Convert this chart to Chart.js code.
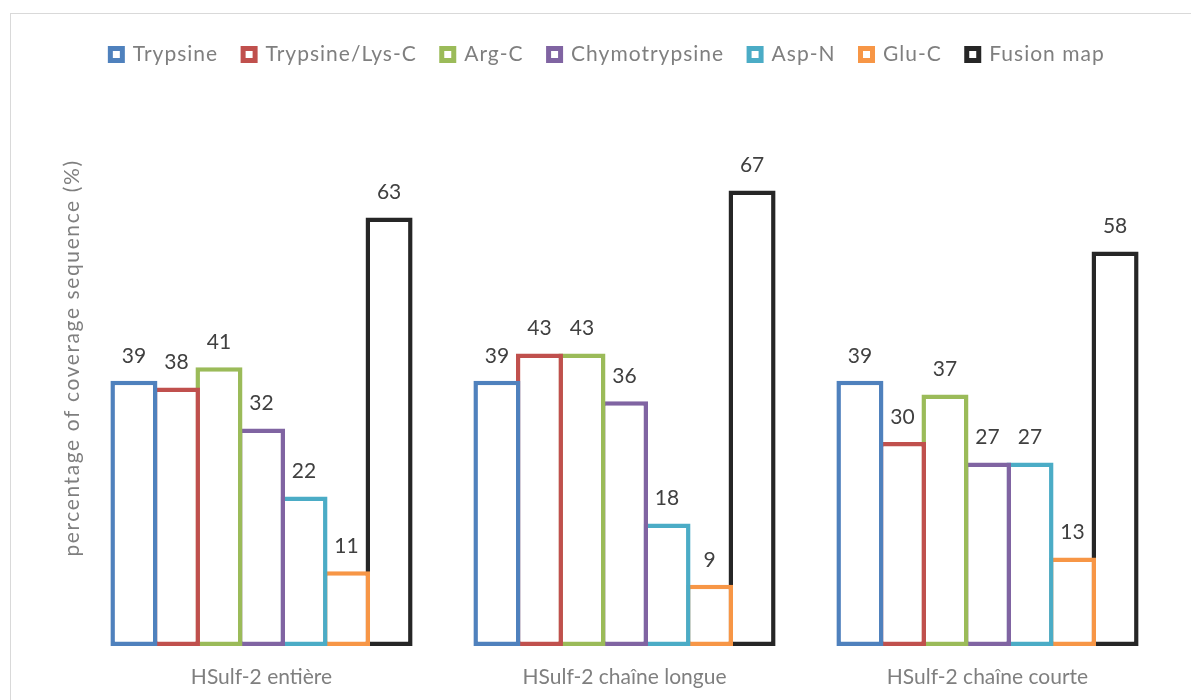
<!DOCTYPE html>
<html>
<head>
<meta charset="utf-8">
<script src="https://cdn.jsdelivr.net/npm/chart.js@4.4.1/dist/chart.umd.min.js"></script>
<style>
  html, body { margin: 0; padding: 0; background: #ffffff; overflow: hidden; }
  #frame { position: absolute; left: 10px; top: 13px; width: 1300px; height: 800px; border: 1px solid #d9d9d9; }
  #wrap { position: absolute; left: 0; top: 0; width: 1191px; height: 700px; }
</style>
</head>
<body>
<div id="frame"></div>
<div id="wrap"><canvas id="c" width="1191" height="700"></canvas></div>
<script>
// Sequence coverage of HSulf-2 by protease
const categories = ['HSulf-2 entière', 'HSulf-2 chaîne longue', 'HSulf-2 chaîne courte'];
const trypsine      = [39, 39, 39];
const trypsineLysC  = [38, 43, 30];
const argC          = [41, 43, 37];
const chymotrypsine = [32, 36, 27];
const aspN          = [22, 18, 27];
const gluC          = [11, 9, 13];
const fusionMap     = [63, 67, 58];
const yTitle = 'percentage of coverage sequence (%)';

const series = [
  { label: 'Trypsine',        data: trypsine,      color: '#4f81bd' },
  { label: 'Trypsine/Lys-C',  data: trypsineLysC,  color: '#c0504d' },
  { label: 'Arg-C',           data: argC,          color: '#9bbb59' },
  { label: 'Chymotrypsine',   data: chymotrypsine, color: '#8064a2' },
  { label: 'Asp-N',           data: aspN,          color: '#4bacc6' },
  { label: 'Glu-C',           data: gluC,          color: '#f79646' },
  { label: 'Fusion map',      data: fusionMap,     color: '#262626' }
];

const FONT = 'Lato, "Open Sans", sans-serif';
const BORDER = 4.5;

// value labels above each bar
const valueLabels = {
  id: 'valueLabels',
  afterDatasetsDraw(chart) {
    const ctx = chart.ctx;
    ctx.save();
    ctx.font = '21px ' + FONT;
    ctx.fillStyle = '#404040';
    ctx.textAlign = 'center';
    ctx.textBaseline = 'middle';
    chart.data.datasets.forEach((ds, i) => {
      const meta = chart.getDatasetMeta(i);
      meta.data.forEach((bar, j) => {
        ctx.fillText(String(ds.data[j]), bar.x, bar.y - 25);
      });
    });
    ctx.restore();
  }
};

// run a draw/fit routine with extra letter spacing (and an optional shift)
function spaced(fn, spacing, dx, dy) {
  return function () {
    const c = this.ctx;
    c.save();
    c.letterSpacing = spacing;
    if (dx || dy) c.translate(dx || 0, dy || 0);
    const r = fn.apply(this, arguments);
    c.restore();
    return r;
  };
}

// legend: extra room below it and slightly spaced lettering; y title lettering
const textTweaks = {
  id: 'textTweaks',
  beforeInit(chart) {
    const lg = chart.legend;
    const fit = spaced(lg.fit, '1px');
    lg.fit = function () {
      fit.call(this);
      this.height += 27;
    };
    lg.draw = spaced(lg.draw, '1px', -5, 0);
  },
  beforeDraw(chart) {
    const y = chart.scales.y;
    if (!y._spacedTitle) {
      y.drawTitle = spaced(y.drawTitle, '1.6px', 0, -16);
      y._spacedTitle = true;
    }
  }
};

new Chart(document.getElementById('c'), {
  type: 'bar',
  data: {
    labels: categories,
    datasets: series.map(s => ({
      label: s.label,
      data: s.data,
      backgroundColor: '#ffffff',
      borderColor: s.color,
      borderWidth: BORDER,
      borderSkipped: false,
      categoryPercentage: 0.82,
      barPercentage: 1.106
    }))
  },
  options: {
    responsive: false,
    animation: false,
    layout: { padding: { left: 56, right: 22, top: 19, bottom: 0 } },
    plugins: {
      legend: {
        position: 'top',
        labels: {
          font: { family: FONT, size: 21 },
          color: '#7f7f7f',
          boxWidth: 12,
          boxHeight: 12,
          padding: 25,
          generateLabels(chart) {
            return chart.data.datasets.map((ds, i) => ({
              text: ds.label,
              fillStyle: '#ffffff',
              strokeStyle: ds.borderColor,
              lineWidth: 5,
              fontColor: '#7f7f7f',
              datasetIndex: i,
              hidden: false
            }));
          }
        }
      },
      tooltip: { enabled: false }
    },
    scales: {
      x: {
        grid: { display: false },
        border: { display: false },
        ticks: { font: { family: FONT, size: 21 }, color: '#7f7f7f', padding: 11 },
        afterFit(scale) { scale.height = 54; }
      },
      y: {
        min: 0,
        max: 80,
        grid: { display: false },
        border: { display: false },
        ticks: { display: false },
        title: { display: true, text: yTitle, font: { family: FONT, size: 21 }, color: '#7f7f7f' },
        afterFit(scale) { scale.width = 24; }
      }
    }
  },
  plugins: [valueLabels, textTweaks]
});
</script>
</body>
</html>
